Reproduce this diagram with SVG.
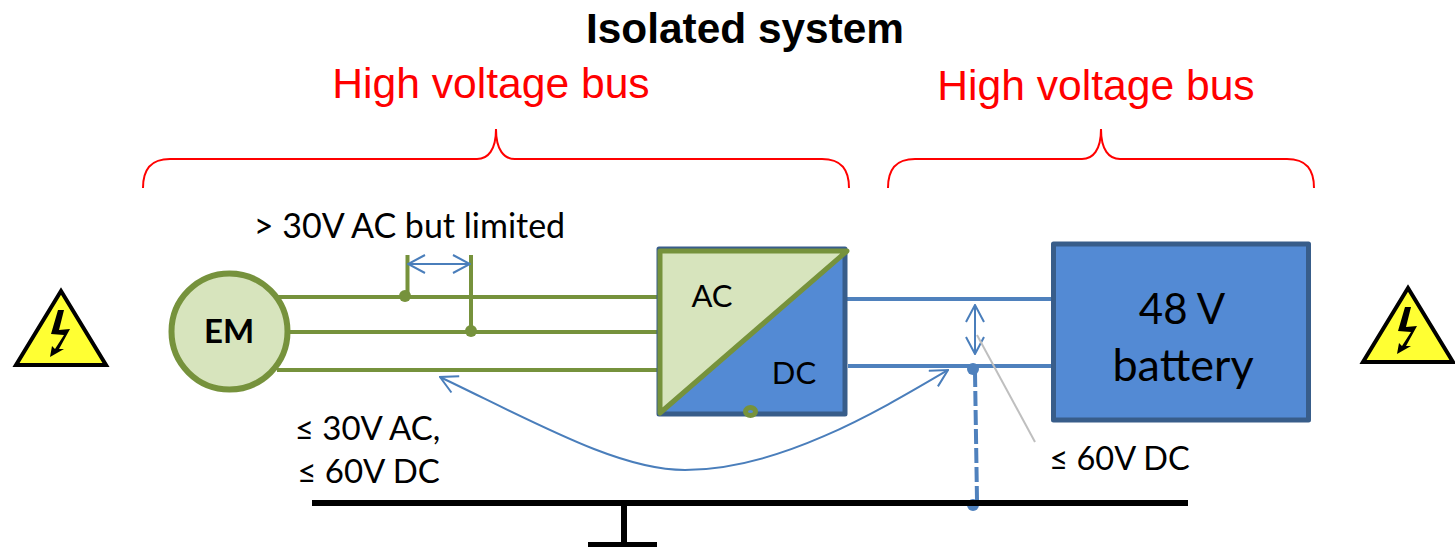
<svg xmlns="http://www.w3.org/2000/svg" width="1455" height="547" viewBox="0 0 1455 547">
<style>
.cal{font-family:Lato,"Liberation Sans",sans-serif;fill:#000}
.red{font-family:"Liberation Sans",Arial,sans-serif;font-size:42.600px;fill:#ff0000}
.brace{fill:none;stroke:#ff0000;stroke-width:2}
.g{fill:none;stroke:#76923c;stroke-width:4}
.b{fill:none;stroke:#4f81bd;stroke-width:4}
.thin{fill:none;stroke:#4a7ebb;stroke-width:2}
.k{fill:none;stroke:#000;stroke-width:6}
.warn{fill:#ffff33;stroke:#000;stroke-width:4;stroke-linejoin:miter}
</style>
<defs>
<marker id="open" viewBox="0 0 20 20" refX="19" refY="10" markerWidth="20" markerHeight="20" markerUnits="userSpaceOnUse" orient="auto-start-reverse">
<path d="M2 1 L19 10 L2 19" fill="none" stroke="#4a7ebb" stroke-width="2"/>
</marker>
<g id="warning">
<path class="warn" d="M48 6 L93 80 L3 80 Z"/>
<path d="M45 25 L51 25 L46 45 L57 44 L46 64 L51 64 L37 72 L39 61 L42 64 L51 50 L38 49 Z" fill="#000"/>
</g>
</defs>
<text id="title" x="745" y="42.500" text-anchor="middle" font-family="Liberation Sans,Arial,sans-serif" font-weight="700" font-size="42.400" fill="#000">Isolated system</text>
<g id="left-bus">
<text class="red" x="491" y="98" text-anchor="middle">High voltage bus</text>
<path class="brace" d="M143 188 C143 170 150 159 170 159 L477 159 C488 159 496 150 496 129 C496 150 504 159 515 159 L822 159 C842 159 849 170 849 188"/>
</g>
<g id="right-bus">
<text class="red" x="1096" y="100" text-anchor="middle">High voltage bus</text>
<path class="brace" d="M888 188 C888 170 895 159 915 159 L1082 159 C1093 159 1101 150 1101 129 C1101 150 1109 159 1120 159 L1287 159 C1307 159 1314 170 1314 188"/>
</g>
<use id="warning-left" href="#warning" x="13" y="285"/>
<use id="warning-right" href="#warning" x="1360" y="282"/>
<g id="connectors">
<path class="g" d="M277 297 H660 M289 332 H660 M277 370 H660 M407.500 255 V297 M471 255 V332"/>
<circle cx="405" cy="296" r="6" fill="#76923c"/>
<circle cx="471" cy="331" r="6" fill="#76923c"/>
<path class="thin" d="M408 264 H470" marker-start="url(#open)" marker-end="url(#open)"/>
<path class="b" d="M845 299 H1052 M848 366 H1052"/>
<path class="thin" d="M975 305 V354" marker-start="url(#open)" marker-end="url(#open)"/>
<path d="M977 335 L1035 442" fill="none" stroke="#bfbfbf" stroke-width="2"/>
<path d="M975 372 L977 500" fill="none" stroke="#4f81bd" stroke-width="4" stroke-dasharray="15 4"/>
<circle cx="973" cy="369" r="6" fill="#4f81bd"/>
<circle cx="973" cy="505" r="6" fill="#4f81bd"/>
<path class="thin" d="M440 377 C540 425 620 470 685 470 C780 470 880 410 948 370" marker-start="url(#open)" marker-end="url(#open)"/>
<path class="k" d="M312 503 H1188 M624 503 V545 M588 545 H657"/>
</g>
<g id="em">
<circle cx="229.500" cy="331.500" r="58" fill="#d7e4bd" stroke="#76923c" stroke-width="6"/>
<text class="cal" x="229" y="343" text-anchor="middle" font-size="33" font-weight="700">EM</text>
</g>
<g id="converter">
<rect x="659" y="249" width="186" height="165" fill="#538ad4" stroke="#385d8a" stroke-width="5" stroke-linejoin="round"/>
<path d="M660 251 H847 L660 413 Z" fill="#d7e4bd" stroke="#76923c" stroke-width="5" stroke-linejoin="round"/>
<ellipse cx="750.500" cy="411.500" rx="5" ry="4" fill="#538ad4" stroke="#76923c" stroke-width="5"/>
<text class="cal" x="712" y="307" text-anchor="middle" font-size="31">AC</text>
<text class="cal" x="794" y="384" text-anchor="middle" font-size="31">DC</text>
</g>
<g id="battery">
<rect x="1053.500" y="244" width="255" height="176" fill="#538ad4" stroke="#385d8a" stroke-width="5" stroke-linejoin="round"/>
<text class="cal" x="1182" y="324" text-anchor="middle" font-size="42">48 V</text>
<text class="cal" x="1183" y="381" text-anchor="middle" font-size="45">battery</text>
</g>
<text class="cal" x="409.500" y="237.500" text-anchor="middle" font-size="34">&gt; 30V AC but limited</text>
<text class="cal" x="367.500" y="439.500" text-anchor="middle" font-size="33">≤ 30V AC,</text>
<text class="cal" x="368.500" y="482.500" text-anchor="middle" font-size="33">≤ 60V DC</text>
<text class="cal" x="1119.500" y="469.500" text-anchor="middle" font-size="32.500">≤ 60V DC</text>
</svg>
